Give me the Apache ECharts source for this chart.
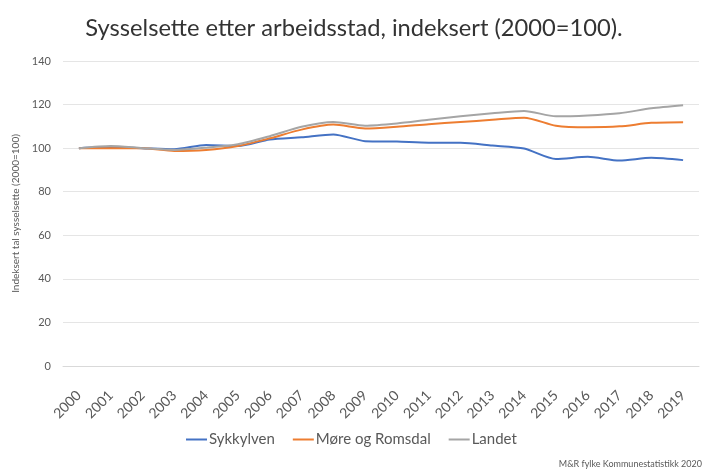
<!DOCTYPE html>
<html>
<head>
<meta charset="utf-8">
<script src="https://cdn.jsdelivr.net/npm/echarts@6/dist/echarts.min.js"></script>
<style>
  html, body { margin: 0; padding: 0; background: #fff; }
  #chart { width: 708px; height: 472px; }
</style>
</head>
<body>
<div id="chart"></div>
<script>
// --- Data ---
const years = ["2000", "2001", "2002", "2003", "2004", "2005", "2006", "2007", "2008", "2009",
  "2010", "2011", "2012", "2013", "2014", "2015", "2016", "2017", "2018", "2019"];
const sykkylven = [100, 100.5, 100, 99.5, 101.5, 101, 104, 105, 106.3, 103.2,
  103, 102.5, 102.5, 101.2, 99.8, 95, 96, 94.3, 95.6, 94.5];
const moreRomsdal = [100, 100, 100, 98.7, 99.2, 101, 104.5, 108.5, 110.8, 109,
  109.8, 111, 112, 113, 114, 110.3, 109.6, 110, 111.6, 111.9];
const landet = [100, 101, 100, 99.2, 100.2, 101.8, 105.5, 109.8, 112, 110.3,
  111.3, 113, 114.6, 116, 117.1, 114.6, 115, 116, 118.3, 119.7];
const yTicks = { min: 0, max: 140, interval: 20 };

const FONT = "Lato, 'Open Sans', sans-serif";
const TXT = "#595959";

function lineSeries(name, data, color) {
  return {
    name, type: "line", data, symbol: "none", smooth: 0.25,
    lineStyle: { color, width: 2 }, itemStyle: { color }
  };
}

const chart = echarts.init(document.getElementById("chart"));
chart.setOption({
  animation: false,
  textStyle: { fontFamily: FONT },
  title: {
    text: "Sysselsette etter arbeidsstad, indeksert (2000=100).",
    left: "center", top: 11,
    textStyle: { fontSize: 23.7, fontWeight: "normal", color: "#333", fontFamily: FONT }
  },
  grid: { left: 63, right: 9, top: 61, bottom: 106 },
  legend: {
    bottom: 20, left: 181, itemWidth: 21, itemHeight: 2, itemGap: 18,
    icon: "rect",
    textStyle: { fontSize: 15, color: TXT, fontFamily: FONT, padding: [0, 0, 0, -3] },
    data: ["Sykkylven", "Møre og Romsdal", "Landet"]
  },
  graphic: [{
    type: "text", right: 6, bottom: 3,
    style: { text: "M&R fylke Kommunestatistikk 2020", fontSize: 9, fill: TXT, fontFamily: FONT }
  }],
  xAxis: {
    type: "category", data: years, boundaryGap: true,
    axisLine: { lineStyle: { color: "#d9d9d9" } },
    axisTick: { show: false },
    axisLabel: { rotate: 45, fontSize: 14, color: TXT, margin: 27, interval: 0 }
  },
  yAxis: {
    type: "value", min: yTicks.min, max: yTicks.max, interval: yTicks.interval,
    name: "Indeksert tal sysselsette (2000=100)",
    nameLocation: "middle", nameGap: 33, nameRotate: 90,
    nameTextStyle: { fontSize: 10, color: TXT },
    axisLine: { show: false }, axisTick: { show: false },
    axisLabel: { fontSize: 11, color: TXT, margin: 12 },
    splitLine: { lineStyle: { color: "#e5e5e5" } }
  },
  series: [
    lineSeries("Sykkylven", sykkylven, "#4472C4"),
    lineSeries("Møre og Romsdal", moreRomsdal, "#ED7D31"),
    lineSeries("Landet", landet, "#A5A5A5")
  ]
});
</script>
</body>
</html>
